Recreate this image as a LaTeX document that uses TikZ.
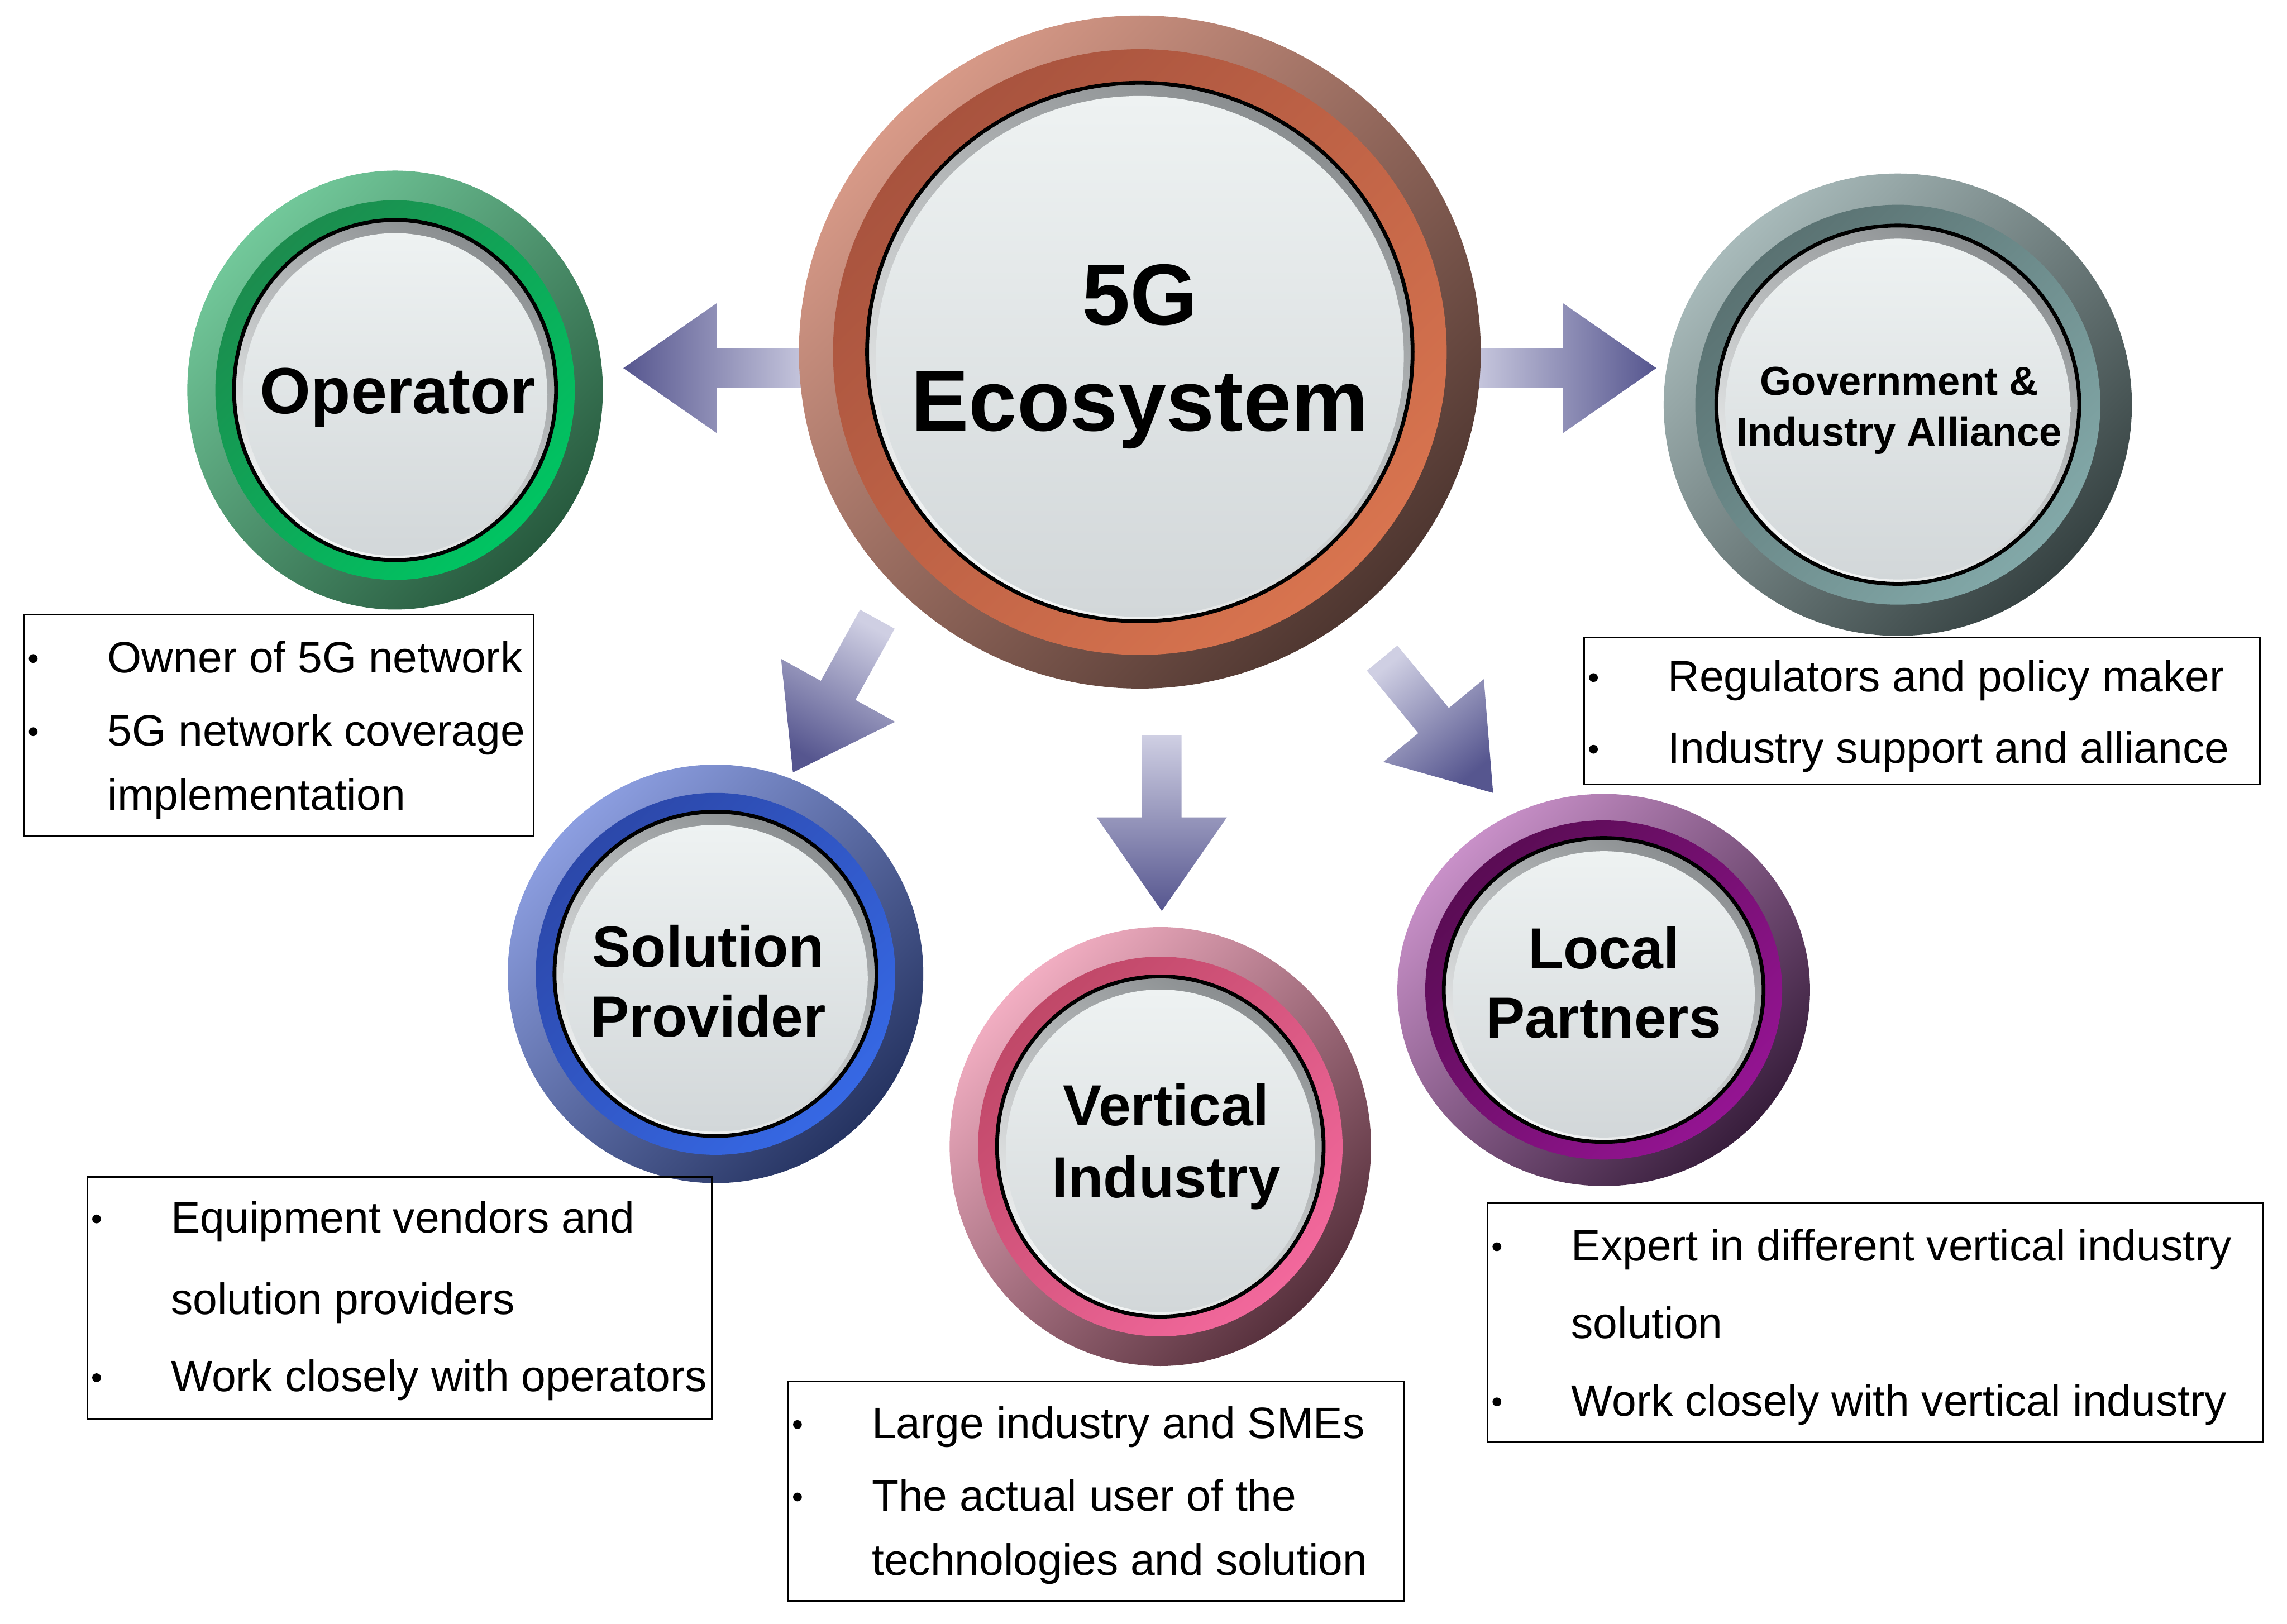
\documentclass[tikz,border=0pt]{standalone}
\usepackage{fontspec}
\setmainfont{Liberation Sans}
\usetikzlibrary{calc}

% ring colours: A/B outer rim, C/D inner band
\definecolor{ecoA}{HTML}{D89A88}\definecolor{ecoB}{HTML}{4E3630}
\definecolor{ecoC}{HTML}{A8533E}\definecolor{ecoD}{HTML}{D8744F}
\definecolor{opA}{HTML}{72C89A}\definecolor{opB}{HTML}{275A3E}
\definecolor{opC}{HTML}{1C8C4E}\definecolor{opD}{HTML}{00C462}
\definecolor{govA}{HTML}{A8BABA}\definecolor{govB}{HTML}{364242}
\definecolor{govC}{HTML}{5A7272}\definecolor{govD}{HTML}{82A8A8}
\definecolor{solA}{HTML}{8C9EE0}\definecolor{solB}{HTML}{263462}
\definecolor{solC}{HTML}{2C48AA}\definecolor{solD}{HTML}{3668E4}
\definecolor{verA}{HTML}{F2AEC2}\definecolor{verB}{HTML}{56303C}
\definecolor{verC}{HTML}{C04868}\definecolor{verD}{HTML}{F2689C}
\definecolor{locA}{HTML}{C890C8}\definecolor{locB}{HTML}{381E3C}
\definecolor{locC}{HTML}{5A0C54}\definecolor{locD}{HTML}{941492}
\definecolor{bevA}{HTML}{8A8E90}\definecolor{bevB}{HTML}{F4F6F6}
\definecolor{diskA}{HTML}{EEF2F2}\definecolor{diskB}{HTML}{D2D7D9}
\definecolor{arrowlight}{HTML}{CFCFE3}\definecolor{arrowdark}{HTML}{56568F}

% #1 centre, #2 x radius, #3 y radius, #4 colour prefix, #5 band ratio, #6 ring ratio
\newcommand{\button}[6]{%
  \path[top color=#4A, bottom color=#4B, shading angle=45] (#1) ellipse [x radius=#2, y radius=#3];
  \path[top color=#4C, bottom color=#4D, shading angle=45] (#1) ellipse [x radius=#2*#5, y radius=#3*#5];
  \path[top color=bevA, bottom color=bevB, shading angle=-30] (#1) ellipse [x radius=#2*#6, y radius=#3*#6];
  \path[top color=diskA, bottom color=diskB] ($(#1)+(0,-3)$) ellipse [x radius=#2*#6-6, y radius=#3*#6-6];
  \draw[line width=1.3pt] (#1) ellipse [x radius=#2*#6, y radius=#3*#6];}

% #1 tail, #2 tip, #3 shading angle
\newcommand{\blockarrow}[3]{%
  \coordinate (neck) at ($(#2)!32pt!(#1)$);
  \path[top color=arrowlight, bottom color=arrowdark, shading angle=#3]
    ($(#1)!6.75pt!90:(#2)$) -- ($(neck)!6.75pt!-90:(#1)$) -- ($(neck)!22.25pt!-90:(#1)$) -- (#2)
    -- ($(neck)!22.25pt!90:(#1)$) -- ($(neck)!6.75pt!90:(#1)$) -- ($(#1)!6.75pt!-90:(#2)$) -- cycle;}

% #1 box, #2 name, #3 drop of baseline, #4 text
\newcommand{\boxline}[4]{%
  \node[boxtext] (#2) at ($(#1.north west)+(57.5,-#3)$) {#4};}
\newcommand{\boxdot}[2]{%
  \fill ($(#1.north west)+(7,-#2+9.5)$) circle (3);}

\begin{document}
\begin{tikzpicture}[x=0.5pt, y=0.5pt,
    title/.style={align=center, inner sep=0pt, text=black},
    boxframe/.style={draw=black, line width=0.6pt, anchor=north west, inner sep=0pt},
    boxtext/.style={anchor=base west, inner sep=0pt, font=\fontsize{15pt}{18pt}\selectfont}]
\useasboundingbox (0,0) rectangle (1563,1109.6);

% arrows (behind the rings)
\coordinate (l-tail) at (560,858);   \coordinate (l-tip) at (426,858);
\coordinate (r-tail) at (1000,858);  \coordinate (r-tip) at (1132,858);
\coordinate (dl-tail) at (599.6,686.4); \coordinate (dl-tip) at (541.9,581.7);
\coordinate (d-tail) at (794,607);   \coordinate (d-tip) at (794,487);
\coordinate (dr-tail) at (944.6,659.8); \coordinate (dr-tip) at (1020.4,567.7);
\blockarrow{l-tail}{l-tip}{-90}
\blockarrow{r-tail}{r-tip}{90}
\blockarrow{dl-tail}{dl-tip}{-29}
\blockarrow{d-tail}{d-tip}{0}
\blockarrow{dr-tail}{dr-tip}{39}

% rings
\coordinate (c-eco) at (779,869);
\coordinate (c-op) at (270,843);
\coordinate (c-gov) at (1297,833);
\coordinate (c-sol) at (489,444);
\coordinate (c-ver) at (793,326);
\coordinate (c-loc) at (1096,433);
\button{c-eco}{233}{230}{eco}{0.9}{0.8}
\button{c-op}{142}{150}{op}{0.865}{0.775}
\button{c-gov}{160}{158}{gov}{0.865}{0.775}
\button{c-sol}{142}{143}{sol}{0.865}{0.775}
\button{c-ver}{144}{150}{ver}{0.865}{0.775}
\button{c-loc}{141}{134}{loc}{0.865}{0.775}

% ring labels
\node[title, font=\bfseries\fontsize{29.6pt}{36.3pt}\selectfont] (eco) at (779,866) {5G\\Ecosystem};
\node[title, font=\bfseries\fontsize{22.3pt}{26pt}\selectfont] (op) at (272,838) {Operator};
\node[title, font=\bfseries\fontsize{13.8pt}{17.3pt}\selectfont] (gov) at (1298,829) {Government \&\\Industry Alliance};
\node[title, font=\bfseries\fontsize{19.8pt}{23.9pt}\selectfont] (sol) at (484,439) {Solution\\Provider};
\node[title, font=\bfseries\fontsize{19.8pt}{24.7pt}\selectfont] (ver) at (797,326) {Vertical\\Industry};
\node[title, font=\bfseries\fontsize{19.8pt}{23.7pt}\selectfont] (loc) at (1096,438) {Local\\Partners};

% operator notes
\node[boxframe, minimum width=174.2pt, minimum height=75.5pt] (opbox) at (15.7,690) {};
\boxline{opbox}{op1}{40}{Owner of 5G network}
\boxline{opbox}{op2}{90}{5G network coverage}
\boxline{opbox}{op3}{134}{implementation}
\boxdot{opbox}{40} \boxdot{opbox}{90}

% government notes
\node[boxframe, minimum width=231pt, minimum height=50.25pt] (govbox) at (1082,674.5) {};
\boxline{govbox}{gov1}{37.5}{Regulators and policy maker}
\boxline{govbox}{gov2}{86.5}{Industry support and alliance}
\boxdot{govbox}{37.5} \boxdot{govbox}{86.5}

% solution provider notes
\node[boxframe, minimum width=213.5pt, minimum height=83pt] (solbox) at (59,306) {};
\boxline{solbox}{sol1}{39}{Equipment vendors and}
\boxline{solbox}{sol2}{94.6}{solution providers}
\boxline{solbox}{sol3}{147.5}{Work closely with operators}
\boxdot{solbox}{39} \boxdot{solbox}{147.5}

% vertical industry notes
\node[boxframe, minimum width=210.5pt, minimum height=75pt] (verbox) at (538,166) {};
\boxline{verbox}{ver1}{39.5}{Large industry and SMEs}
\boxline{verbox}{ver2}{89}{The actual user of the}
\boxline{verbox}{ver3}{133}{technologies and solution}
\boxdot{verbox}{39.5} \boxdot{verbox}{89}

% local partner notes
\node[boxframe, minimum width=265pt, minimum height=81.5pt] (locbox) at (1016,288) {};
\boxline{locbox}{loc1}{40}{Expert in different vertical industry}
\boxline{locbox}{loc2}{93}{solution}
\boxline{locbox}{loc3}{146}{Work closely with vertical industry}
\boxdot{locbox}{40} \boxdot{locbox}{146}
\end{tikzpicture}
\end{document}
